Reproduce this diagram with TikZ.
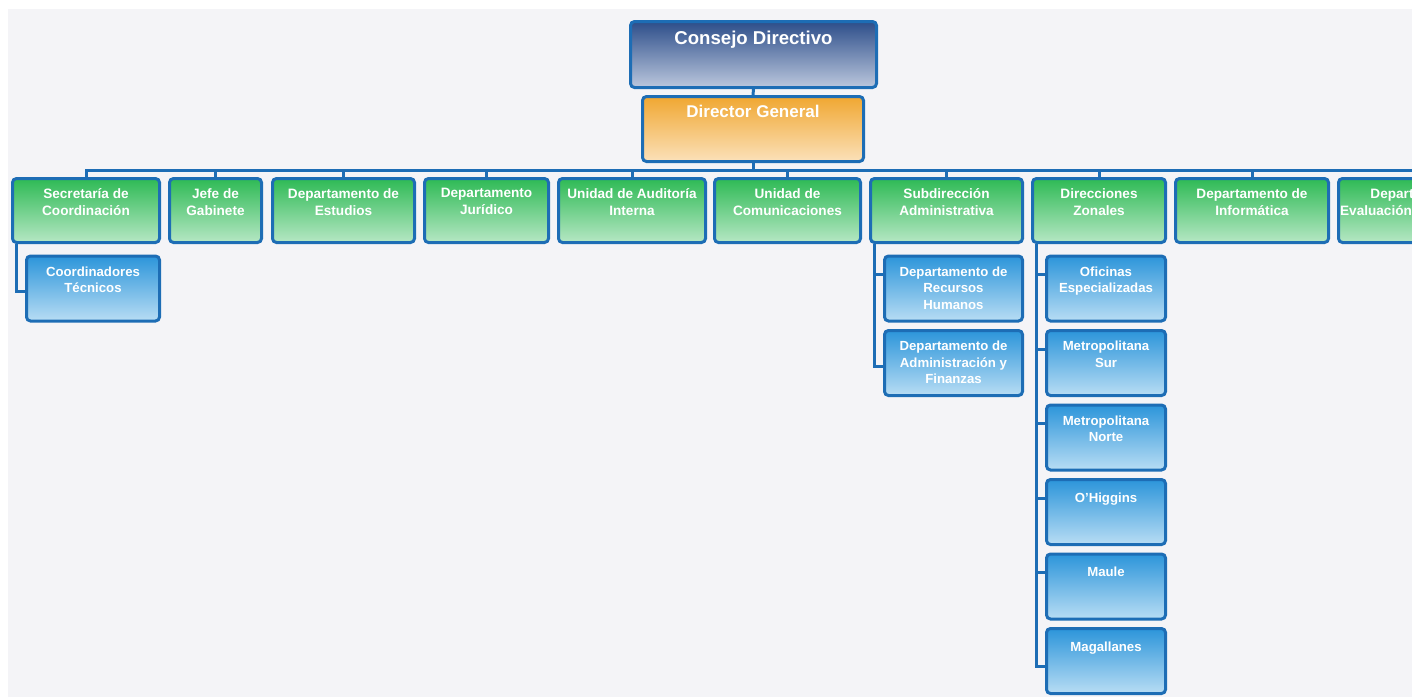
\documentclass[tikz,border=0pt]{standalone}
\usepackage{fontspec}
\setmainfont{Liberation Sans}
\usepackage{xcolor}
\usepackage{tikz}
\usetikzlibrary{positioning}

\definecolor{fondo}{HTML}{F4F4F7}
\definecolor{borde}{HTML}{1D6DB5}
\definecolor{consejoA}{HTML}{2D4E8A}
\definecolor{consejoB}{HTML}{BBC7DD}
\definecolor{directorA}{HTML}{F0A731}
\definecolor{directorB}{HTML}{FBE1BA}
\definecolor{verdeA}{HTML}{2EBA55}
\definecolor{verdeB}{HTML}{B6E7C4}
\definecolor{azulA}{HTML}{2C95DA}
\definecolor{azulB}{HTML}{B8DDF4}

\tikzset{
  caja/.style={draw=borde, line width=1.5pt, rounded corners=2pt, inner sep=0pt},
  verde/.style={caja, top color=verdeA, bottom color=verdeB, minimum height=32pt},
  azul/.style={caja, top color=azulA, bottom color=azulB, minimum height=32.5pt},
  texto/.style={text=white, align=center, inner sep=0pt,
    font=\bfseries\fontsize{6.8}{8.5}\selectfont,
    execute at begin node={\rule{0pt}{.9em}}},
  textob/.style={texto, font=\bfseries\fontsize{6.6}{8.2}\selectfont},
  enlace/.style={draw=borde, line width=1.5pt},
}

\begin{document}
\begin{tikzpicture}[x=0.5pt, y=-0.5pt]
    \useasboundingbox (0,0) rectangle (1412,697);
    \clip (0,0) rectangle (1412,697);
    \fill [white] (0,0) rectangle (1412,697);
    \fill [fondo] (8,9) rectangle (1412,697);
    % cabeza
    \node [caja, top color=consejoA, bottom color=consejoB, minimum width=123pt, minimum height=33pt] (cd) at (753.5,54.5) {};
    \node [texto, font=\bfseries\fontsize{9.3}{11}\selectfont, below=3.9pt of cd.north] (cd-t) {Consejo Directivo};
    \node [caja, top color=directorA, bottom color=directorB, minimum width=110.5pt, minimum height=32.5pt] (dg) at (753,129) {};
    \node [texto, font=\bfseries\fontsize{8.5}{10}\selectfont, below=3.6pt of dg.north] (dg-t) {Director General};
    \coordinate (bus) at (753,170);
    \draw [enlace] (cd.south) -- (dg.north);
    \draw [enlace] (dg.south) -- (bus);
    % primer nivel
    \foreach \n/\x/\w/\t in {sc/86/73.5/{Secretaría de\\Coordinación},
                             jg/215.5/46/{Jefe de\\Gabinete},
                             de/343.5/71/{Departamento de\\Estudios},
                             dj/486.5/62/{Departamento\\Jurídico},
                             ua/632/73.5/{Unidad de Auditoría\\Interna},
                             uc/787.5/73/{Unidad de\\Comunicaciones},
                             sa/946.5/76/{Subdirección\\Administrativa},
                             dz/1099/66.5/{Direcciones\\Zonales},
                             di/1252/76.5/{Departamento de\\Informática},
                             dv/1426/87.5/{Departamento de\\Evaluación\makebox[50pt]{}}}
    {
        \node [verde, minimum width=\w pt] (\n) at (\x,210.5) {};
        \node [texto, below=5.6pt of \n.north] (\n-t) {\t};
        \draw [enlace] (\n.north) |- (bus);
    }
    % segundo nivel
    \foreach \n/\x/\y/\w/\t in {ct/93/288.5/66.5/{Coordinadores\\Técnicos},
                                rh/953.5/288.5/69/{Departamento de\\Recursos\\Humanos},
                                af/953.5/363/69/{Departamento de\\Administración y\\Finanzas},
                                oe/1106/288.5/59.5/{Oficinas\\Especializadas},
                                ms/1106/363/59.5/{Metropolitana\\Sur},
                                mn/1106/437.5/59.5/{Metropolitana\\Norte},
                                oh/1106/512/59.5/{O'Higgins},
                                ml/1106/586.5/59.5/{Maule},
                                mg/1106/661/59.5/{Magallanes}}
    {
        \node [azul, minimum width=\w pt] (\n) at (\x,\y) {};
        \node [textob, below=6pt of \n.north] (\n-t) {\t};
    }
    % ramas
    \foreach \p/\c/\d in {sc/ct/18.5, sa/rh/10, sa/af/18.5,
                          dz/oe/10, dz/ms/10, dz/mn/10, dz/oh/10, dz/ml/10, dz/mg/19.5}
        \draw [enlace] ([yshift=-\d pt]\c.north west) -| ([xshift=2.75pt]\p.south west);
\end{tikzpicture}
\end{document}
